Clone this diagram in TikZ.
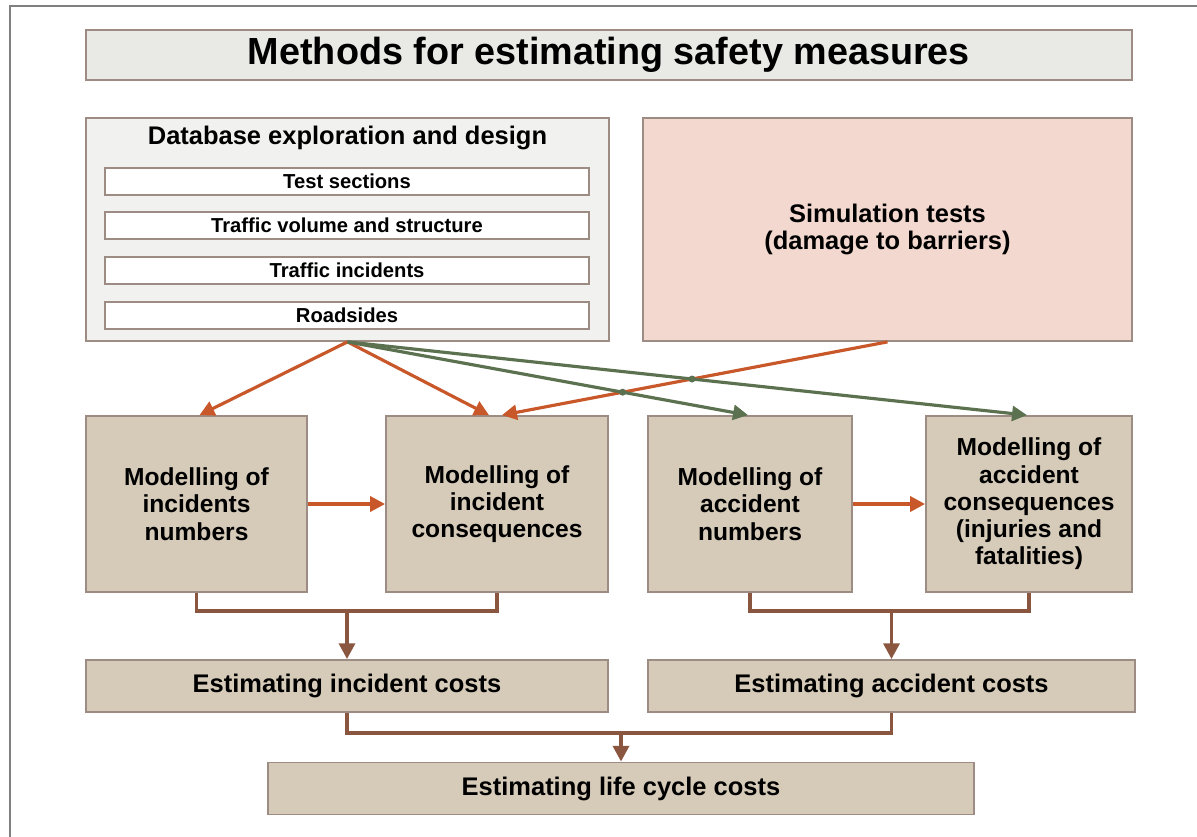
\documentclass[tikz,border=0pt]{standalone}
\usepackage{fontspec}
\setmainfont{Liberation Sans}
\usetikzlibrary{calc,arrows.meta,intersections}
\definecolor{framegray}{HTML}{808080}
\definecolor{boxline}{HTML}{9C8C84}
\definecolor{titlefill}{HTML}{E9E9E5}
\definecolor{dbfill}{HTML}{F1F1EF}
\definecolor{simfill}{HTML}{F2D8CE}
\definecolor{tanfill}{HTML}{D6CBB9}
\definecolor{orangeline}{HTML}{C8582A}
\definecolor{greenline}{HTML}{5C7150}
\definecolor{brownline}{HTML}{8A5640}
\tikzset{
  box/.style={draw=boxline,line width=1pt,inner sep=0pt,align=center,font=\bfseries},
  modelbox/.style={box,fill=tanfill,minimum width=#1,minimum height=176*0.02cm,font=\fontsize{14}{15.5}\selectfont\bfseries},
  costbox/.style={box,fill=tanfill,minimum width=#1,minimum height=52*0.02cm,font=\fontsize{14.5}{16}\selectfont\bfseries},
  itembox/.style={box,fill=white,minimum width=484*0.02cm,minimum height=27*0.02cm,font=\fontsize{11.5}{13}\selectfont\bfseries},
  orangearrow/.style={draw=orangeline,line width=1.8pt,-{Triangle[length=8.5pt,width=8.5pt]}},
  greenarrow/.style={draw=greenline,line width=1.8pt,-{Triangle[length=8.5pt,width=8.5pt]}},
  joinline/.style={draw=brownline,line width=2.2pt},
  joinarrow/.style={joinline,-{Triangle[length=9pt,width=9pt]}}
}
\begin{document}
\begin{tikzpicture}[x=0.02cm,y=-0.02cm]
%
\def\px{0.02cm}
\useasboundingbox (0,0) rectangle (1197,836);
\draw[framegray,line width=1pt] (10,840) -- (10,6) -- (1200,6);
%
% title and input boxes
\node[box,fill=titlefill,minimum width=1046*\px,minimum height=50*\px,font=\fontsize{21.5}{24}\selectfont\bfseries] (title) at (609,55) {Methods for estimating safety measures};
\node[box,fill=dbfill,minimum width=523*\px,minimum height=223*\px] (db) at (347.5,229.5) {};
\node[font=\fontsize{14.5}{16}\selectfont\bfseries] (dbtitle) at (347.5,138) {Database exploration and design};
\node[itembox] (sections) at (347,181.5) {Test sections};
\node[itembox] (volume) at (347,225.5) {Traffic volume and structure};
\node[itembox] (incidents) at (347,270.5) {Traffic incidents};
\node[itembox] (roadsides) at (347,315.5) {Roadsides};
\node[box,fill=simfill,minimum width=489*\px,minimum height=223*\px,font=\fontsize{14.5}{15}\selectfont\bfseries] (sim) at (887.5,229.5) {Simulation tests\\(damage to barriers)};
%
% modelling boxes
\node[modelbox=221*\px] (m1) at (196.5,504) {Modelling of\\incidents\\numbers};
\node[modelbox=222*\px] (m2) at (497,504) {Modelling of\\incident\\consequences};
\node[modelbox=204*\px] (m3) at (750,504) {Modelling of\\accident\\numbers};
\node[modelbox=206*\px] (m4) at (1029,504) {Modelling of\\accident\\consequences\\(injuries and\\fatalities)};
%
% cost boxes
\node[costbox=522*\px] (ci) at (347,686) {Estimating incident costs};
\node[costbox=487*\px] (ca) at (891.5,686) {Estimating accident costs};
\node[costbox=706*\px] (lc) at (621,788.5) {Estimating life cycle costs};
%
% arrows from the inputs
\draw[orangearrow] (db.south) -- ([xshift=3*\px]m1.north);
\draw[orangearrow] (db.south) -- ([xshift=-8*\px]m2.north);
\draw[orangearrow,name path=simline] (sim.south) -- ([xshift=5*\px]m2.north);
\draw[greenarrow,name path=gone] (db.south) -- ([xshift=-2*\px]m3.north);
\draw[greenarrow,name path=gtwo] (db.south) -- ([xshift=-2*\px]m4.north);
\path[name intersections={of=simline and gone,by=hopone}];
\path[name intersections={of=simline and gtwo,by=hoptwo}];
\fill[greenline] (hopone) circle (3.5*\px);
\fill[greenline] (hoptwo) circle (3.5*\px);
%
\draw[orangearrow,line width=2pt] (m1.east) -- (m2.west);
\draw[orangearrow,line width=2pt] (m3.east) -- (m4.west);
%
% joining the results
\coordinate (jinc) at ($(ci.north)+(0,-48)$);
\coordinate (jacc) at ($(ca.north)+(0,-48)$);
\coordinate (jlc) at ($(lc.north)+(0,-29)$);
\draw[joinline] (m1.south) |- (jinc) -| (m2.south);
\draw[joinline] (m3.south) |- (jacc) -| (m4.south);
\draw[joinarrow] (jinc) -- (ci.north);
\draw[joinarrow] (jacc) -- (ca.north);
\draw[joinline] (ci.south) |- (jlc) -| (ca.south);
\draw[joinarrow] (jlc) -- (lc.north);
%
\end{tikzpicture}
\end{document}
